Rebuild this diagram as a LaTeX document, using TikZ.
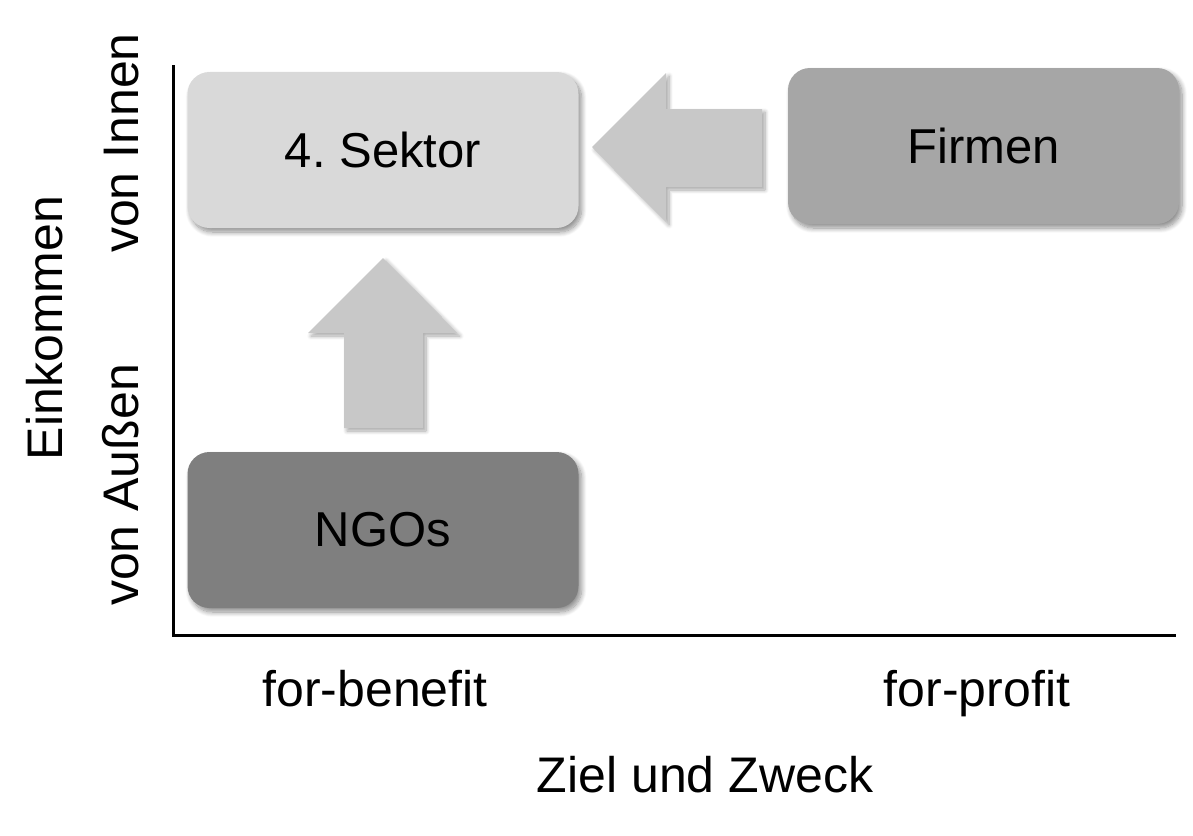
\documentclass[tikz,border=0pt]{standalone}
\usepackage{fontspec}
\setmainfont{Liberation Sans}
\usetikzlibrary{shadows.blur}
\definecolor{lightbox}{HTML}{D9D9D9}
\definecolor{midbox}{HTML}{A6A6A6}
\definecolor{darkbox}{HTML}{7F7F7F}
\definecolor{arrowgray}{HTML}{C8C8C8}
\frenchspacing
\begin{document}
\begin{tikzpicture}[x=1pt,y=-1pt,
  sector/.style={rounded corners=22pt, minimum width=391pt, minimum height=156pt,
    inner sep=0pt, font=\fontsize{49}{58}\selectfont,
    blur shadow={shadow xshift=3pt, shadow yshift=-4pt, shadow blur steps=10, shadow blur radius=5pt, shadow opacity=45}},
  blockarrow/.style={fill=arrowgray,
    blur shadow={shadow xshift=3pt, shadow yshift=-3pt, shadow blur steps=8, shadow blur radius=4pt, shadow opacity=35}},
  axis/.style={line width=3pt, black},
  lab/.style={font=\fontsize{50}{60}\selectfont, inner sep=0pt}]
\useasboundingbox (0,0) rectangle (1193,835);
% boxes
\node[sector, fill=lightbox] (sektor) at (383,150) {4. Sektor};
\node[sector, fill=midbox] (firmen) at (983.5,146) {Firmen};
\node[sector, fill=darkbox] (ngos) at (383,530) {NGOs};
% block arrows
\path[blockarrow] (592,147) -- (666,73) -- (666,109) -- (762,109) -- (762,187) -- (666,187) -- (666,222) -- cycle;
\path[blockarrow] (383,258) -- (457,333) -- (423,333) -- (423,428) -- (344,428) -- (344,333) -- (308,333) -- cycle;
% axes
\coordinate (top) at (173,65);
\coordinate (origin) at (173,635);
\coordinate (right) at (1176,635);
\draw[axis] (top) -- (origin |- right) -- (right);
% axis labels
\node[lab, rotate=90, anchor=base] (ein) at (62,328) {Einkommen};
\node[lab, rotate=90, anchor=base] (innen) at (138,143) {von Innen};
\node[lab, rotate=90, anchor=base] (aussen) at (138,485) {von Außen};
\node[lab, anchor=base] (benefit) at (375,706) {for-benefit};
\node[lab, anchor=base] (profit) at (977,706) {for-profit};
\node[lab, anchor=base] (ziel) at (705,792) {Ziel und Zweck};
\end{tikzpicture}
\end{document}
